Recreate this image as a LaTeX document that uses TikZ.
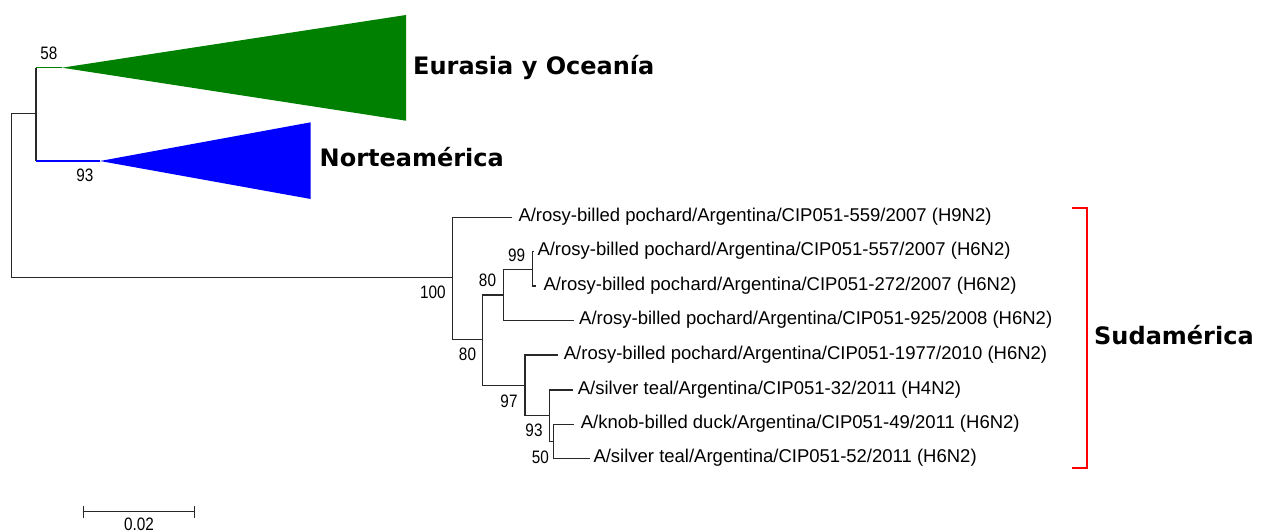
\documentclass[tikz,border=0pt]{standalone}
\usepackage{fontspec}
\setmainfont{Liberation Sans}
\newfontfamily\cladefont{DejaVu Sans}
\newfontfamily\bootfont[FakeStretch=0.85]{Liberation Sans}
\definecolor{cladegreen}{RGB}{0,128,0}
\definecolor{cladeblue}{RGB}{0,0,255}
\definecolor{cladered}{RGB}{255,0,0}
\definecolor{treeline}{RGB}{40,40,40}
\begin{document}
\begin{tikzpicture}[x=1pt,y=-1pt,
  branch/.style={line width=1.3pt, draw=treeline},
  leaf/.style={anchor=base west, inner sep=0pt, font=\fontsize{18.5}{21}\selectfont},
  boot/.style={anchor=base, inner sep=0pt, font=\bootfont\fontsize{18}{20}\selectfont},
  clade/.style={anchor=base west, inner sep=0pt, font=\cladefont\bfseries\fontsize{24}{28}\selectfont},
  bracket/.style={line width=2pt, draw=cladered}]
\useasboundingbox (0,0) rectangle (1266,532);

% root and the two collapsed clades
\coordinate (r) at (11.7,195.5);
\coordinate (nEO) at (36,113.3);
\coordinate (cG) at (36,67.7);
\coordinate (tG) at (62,67.7);
\coordinate (cB) at (36,161);
\coordinate (tB) at (100,161);
\coordinate (gTop) at (406,15);
\coordinate (gBot) at (406,120.7);
\coordinate (bTop) at (310.7,122.3);
\coordinate (bBot) at (310.7,199);

\draw[branch] (r) |- (nEO);
\draw[branch] (cG) -- (cB);
\draw[line width=1.3pt, draw=cladegreen] (cG) -- (tG);
\draw[line width=1.3pt, draw=cladeblue] (cB) -- (tB);
\fill[cladegreen] (tG) -- (gTop) -- (gBot) -- cycle;
\fill[cladeblue] (tB) -- (bTop) -- (bBot) -- cycle;

\node[clade] (eo) at (413,75) {Eurasia y Oceanía};
\node[clade] (na) at (319.5,166.7) {Norteamérica};
\node[boot] (b58) at (49,60) {58};
\node[boot] (b93a) at (85,181.7) {93};

% South American clade
\coordinate (nS) at (452.7,277.7);
\coordinate (n3) at (482.7,339.3);
\coordinate (n4) at (503.3,295);
\coordinate (n5) at (532.5,269.3);
\coordinate (n6) at (525,385.7);
\coordinate (n7) at (549.3,415.7);
\coordinate (n8) at (553.3,441.3);
\coordinate (t559) at (511.7,217.7);
\coordinate (t557) at (533.8,251.7);
\coordinate (t272) at (535.5,286);
\coordinate (t925) at (574,320.7);
\coordinate (t1977) at (558,355);
\coordinate (t32) at (572.7,390);
\coordinate (t49) at (574,424.3);
\coordinate (t52) at (590,458.3);

\draw[branch] (r) |- (nS);
\draw[branch] (nS) |- (t559);
\draw[branch] (nS) |- (n3);
\draw[branch] (n3) |- (n4);
\draw[branch] (n3) |- (n6);
\draw[branch] (n4) |- (n5);
\draw[branch] (n4) |- (t925);
\draw[branch] (n5) |- (t557);
\draw[branch] (n5) |- (t272);
\draw[branch] (n6) |- (t1977);
\draw[branch] (n6) |- (n7);
\draw[branch] (n7) |- (t32);
\draw[branch] (n7) |- (n8);
\draw[branch] (n8) |- (t49);
\draw[branch] (n8) |- (t52);

\node[leaf] (l559) at (518.3,221.7) {A/rosy-billed pochard/Argentina/CIP051-559/2007 (H9N2)};
\node[leaf] (l557) at (537.3,255.7) {A/rosy-billed pochard/Argentina/CIP051-557/2007 (H6N2)};
\node[leaf] (l272) at (543.3,290) {A/rosy-billed pochard/Argentina/CIP051-272/2007 (H6N2)};
\node[leaf] (l925) at (579,324.7) {A/rosy-billed pochard/Argentina/CIP051-925/2008 (H6N2)};
\node[leaf] (l1977) at (563.7,359) {A/rosy-billed pochard/Argentina/CIP051-1977/2010 (H6N2)};
\node[leaf] (l32) at (577.7,394) {A/silver teal/Argentina/CIP051-32/2011 (H4N2)};
\node[leaf] (l49) at (580.7,428.3) {A/knob-billed duck/Argentina/CIP051-49/2011 (H6N2)};
\node[leaf] (l52) at (593.3,462.3) {A/silver teal/Argentina/CIP051-52/2011 (H6N2)};

\node[boot] (b100) at (432.8,298.3) {100};
\node[boot] (b80a) at (467.5,360.7) {80};
\node[boot] (b80b) at (487.5,286.7) {80};
\node[boot] (b99) at (516.7,261.7) {99};
\node[boot] (b97) at (509,407) {97};
\node[boot] (b93b) at (534,436.7) {93};
\node[boot] (b50) at (540.3,463.3) {50};

% bracket for the South American group
\coordinate (kTL) at (1071.7,207.7);
\coordinate (kTR) at (1086.7,207.7);
\coordinate (kBR) at (1086.7,468.3);
\coordinate (kBL) at (1071.7,468.3);
\draw[bracket] (kTL) -- (kTR) -- (kBR) -- (kBL);
\node[clade] (sa) at (1094,344.5) {Sudamérica};

% scale bar
\coordinate (sL) at (83.3,511.7);
\coordinate (sR) at (194.3,511.7);
\draw[branch] (sL) -- (sR);
\draw[branch] ([yshift=-6.5pt]sL) -- ([yshift=6pt]sL);
\draw[branch] ([yshift=-6.5pt]sR) -- ([yshift=6pt]sR);
\node[boot] (sc) at (139,530) {0.02};
\end{tikzpicture}
\end{document}
